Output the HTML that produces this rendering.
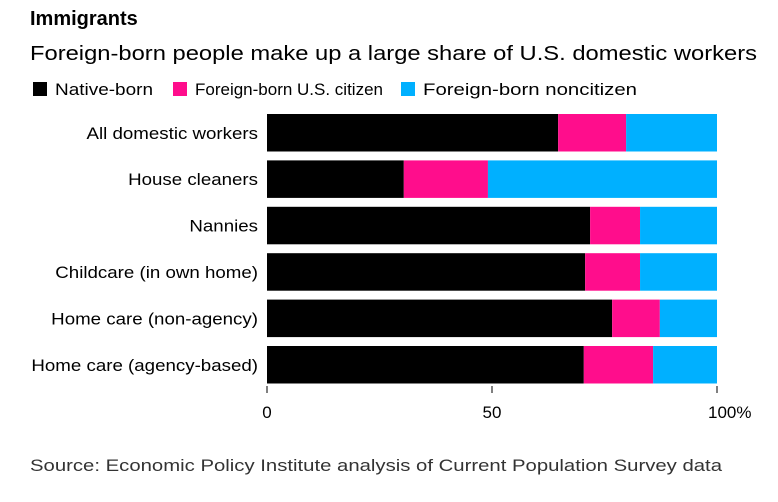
<!DOCTYPE html>
<html><head><meta charset="utf-8"><style>
body{margin:0;background:#fff;font-family:"Liberation Sans",sans-serif;}
#wrap{position:relative;width:778px;height:502px;overflow:hidden;}
.t{position:absolute;white-space:nowrap;color:#000;}
</style></head><body>
<div id="wrap">
<div class="t" style="left:30px;top:8px;font-size:20px;font-weight:bold;">Immigrants</div>
<svg id="svg" width="778" height="502" style="position:absolute;left:0;top:0">
<text x="30" y="60" font-size="20" font-family="Liberation Sans, sans-serif" textLength="727" lengthAdjust="spacingAndGlyphs">Foreign-born people make up a large share of U.S. domestic workers</text>
<text x="30" y="471" font-size="17" fill="#333" font-family="Liberation Sans, sans-serif" textLength="692" lengthAdjust="spacingAndGlyphs">Source: Economic Policy Institute analysis of Current Population Survey data</text>
</svg>
</div>
<script>
const categories=["All domestic workers","House cleaners","Nannies","Childcare (in own home)","Home care (non-agency)","Home care (agency-based)"];
const nativeBorn=[64.7,30.4,71.8,70.7,76.7,70.4];
const fbCitizen=[15.1,18.7,11.1,12.2,10.6,15.4];
const fbNoncitizen=[20.2,50.9,17.1,17.1,12.7,14.2];
const tickVals=[0,50,100];
const tickLabels=["0","50","100%"];
const seriesNames=["Native-born","Foreign-born U.S. citizen","Foreign-born noncitizen"];
const colors=["#000000","#ff0d8c","#00b0ff"];
const svg=document.getElementById('svg');
const NS="http://www.w3.org/2000/svg";
const x0=267,x1=717;
const xs=v=>x0+(x1-x0)*v/100;
const yTop=114,pitch=46.4,bh=37.5;
const ys=i=>yTop+i*pitch;
function mk(t,a){const e=document.createElementNS(NS,t);for(const k in a)e.setAttribute(k,a[k]);svg.appendChild(e);return e;}
const legX=[33,173,401];
const legW=[98,188,214];
seriesNames.forEach((n,j)=>{
  const r=mk('rect',{x:legX[j],y:82,width:14,height:14,fill:colors[j]});
  
  
  const t=mk('text',{x:legX[j]+22,y:95,'font-size':17,'font-family':'Liberation Sans, sans-serif',fill:'#000',textLength:legW[j],lengthAdjust:'spacingAndGlyphs'});
  t.textContent=n;
  
  
});
const series=[nativeBorn,fbCitizen,fbNoncitizen];
categories.forEach((c,i)=>{
  let acc=0;
  series.forEach((s,j)=>{
    const r=mk('rect',{x:xs(acc),y:ys(i),width:xs(acc+s[i])-xs(acc),height:bh,fill:colors[j]});
    
    
    acc+=s[i];
  });
  const t=mk('text',{x:258,y:ys(i)+bh/2+6,'text-anchor':'end','font-size':17,'font-family':'Liberation Sans, sans-serif',fill:'#000'});
  t.textContent=c;
  
  
  const w=t.getComputedTextLength();
  t.setAttribute('textLength',(w*1.1).toFixed(1));
  t.setAttribute('lengthAdjust','spacingAndGlyphs');
});
tickVals.forEach((v,k)=>{
  const l=mk('line',{x1:xs(v),x2:xs(v),y1:386,y2:393,stroke:'#000','stroke-width':1});
  
  
  const t=mk('text',{x:xs(v)-(k==2?9:0),y:418,'text-anchor':k==2?'start':'middle','font-size':17,'font-family':'Liberation Sans, sans-serif',fill:'#000'});
  t.textContent=tickLabels[k];
  
  
});
</script>
</body></html>
